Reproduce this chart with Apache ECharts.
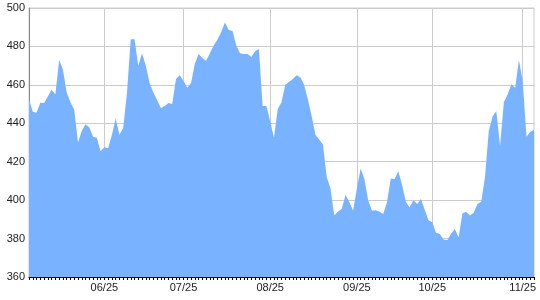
<!DOCTYPE html>
<html>
<head>
<meta charset="utf-8">
<script src="https://cdn.jsdelivr.net/npm/echarts@6/dist/echarts.min.js"></script>
<style>html,body{margin:0;padding:0;background:#fff}#c{width:540px;height:300px}</style>
</head>
<body>
<div id="c"></div>
<script>
const values = [
452.5,446,445.5,450.7,450.5,454,457.5,455,473,468,
456,451,447,430,436,439.5,438,433,432.5,425.5,
427.5,427,434,442.5,434,437.5,456,483.7,483.7,470,
476.4,470,461,456,452,448,449,450.5,450,463,
465,462,458.5,461,471,476,474,472.5,476.5,480.5,
483.5,487.5,492.4,488.5,488,480.5,476.5,476,476,474.5,
477.5,478.7,449,449,441,432.5,447.5,451,460,461.5,
463,465,464,460,452.5,443.8,434,431.5,429,412,
406,392.2,394,395.5,402.7,399,394.5,406,416.5,411,
400,394.5,394.8,394,392.8,399,411.3,411,415,408,
399,396.3,400,398,400.6,395,389.5,388.5,383,382.4,
379.5,379.2,382.5,385,380.6,393,394,392,393.5,398,
399.2,412,436,443.5,446.4,428,451,455,460.3,458.5,
472.9,462,433,435.6,436.5
];
const tickIdx = [20, 41, 64, 87, 107, 131];
const tickLabels = ['06/25', '07/25', '08/25', '09/25', '10/25', '11/25'];
const categories = values.map((v, i) => {
  const k = tickIdx.indexOf(i);
  return k >= 0 ? tickLabels[k] : String(i);
});
const yMin = 360, yMax = 500, yStep = 20;

const isTick = (i) => tickIdx.indexOf(i) >= 0;
const chart = echarts.init(document.getElementById('c'), null, {renderer: 'canvas'});
chart.setOption({
  animation: false,
  grid: {left: 29, top: 8, right: 6, bottom: 23, show: true, borderColor: '#cccccc', borderWidth: 1},
  xAxis: {
    type: 'category',
    data: categories,
    boundaryGap: false,
    axisLine: {lineStyle: {color: '#000', width: 1}},
    axisTick: {show: true, interval: 0, length: 3, lineStyle: {color: '#000'}},
    axisLabel: {
      interval: (i) => isTick(i),
      color: '#222', fontFamily: 'Liberation Sans, Arial', fontSize: 11, margin: 5
    },
    splitLine: {show: true, interval: (i) => isTick(i), lineStyle: {color: '#cccccc', width: 1}}
  },
  yAxis: {
    type: 'value',
    min: yMin, max: yMax, interval: yStep,
    axisLine: {show: true, lineStyle: {color: '#888', width: 1}},
    axisTick: {show: false},
    axisLabel: {color: '#222', fontFamily: 'Liberation Sans, Arial', fontSize: 11, margin: 4},
    splitLine: {show: true, lineStyle: {color: '#cccccc', width: 1}}
  },
  series: [{
    type: 'line',
    data: values,
    symbol: 'none',
    lineStyle: {width: 0, color: '#79b3ff'},
    areaStyle: {color: '#79b3ff', opacity: 1, origin: 'start'},
    itemStyle: {color: '#79b3ff'}
  }]
});
</script>
</body>
</html>
